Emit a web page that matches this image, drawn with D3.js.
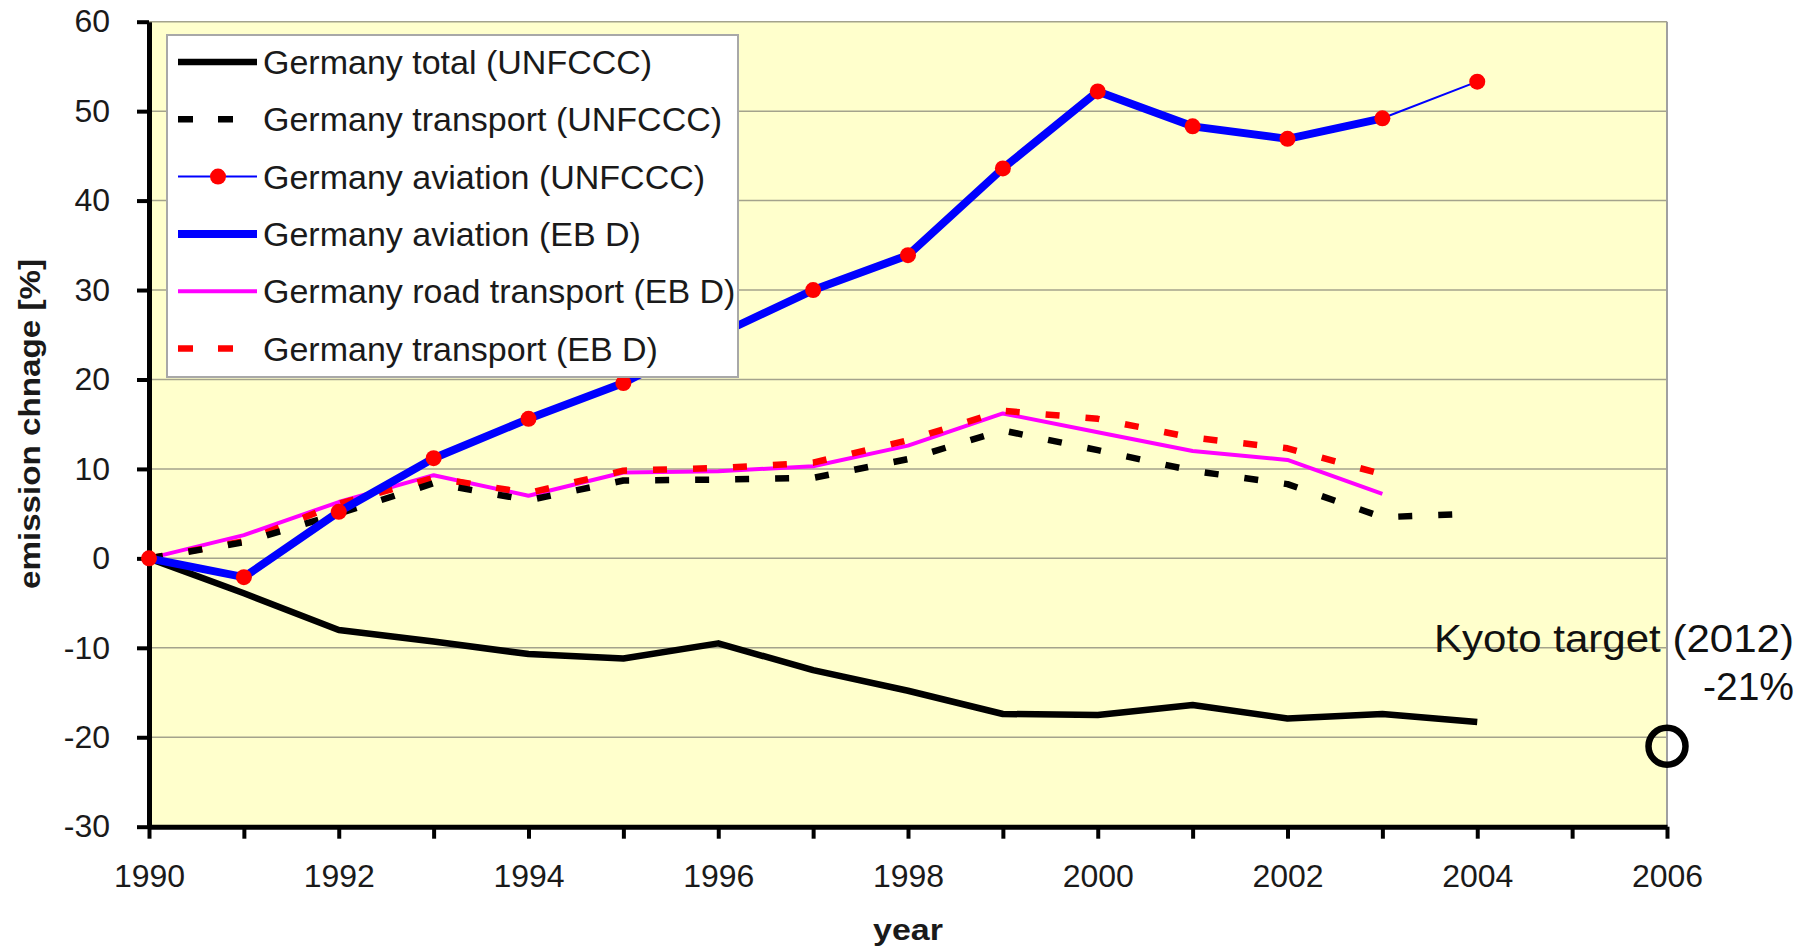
<!DOCTYPE html>
<html>
<head>
<meta charset="utf-8">
<script src="https://cdn.jsdelivr.net/npm/d3@7"></script>
<style>
  body { margin: 0; background: #fff; }
  svg { display: block; font-family: "Liberation Sans", Arial, sans-serif; }
</style>
</head>
<body>
<div id="vis"></div>
<script>
// data (emission change vs 1990, %)
var years = [1990, 1991, 1992, 1993, 1994, 1995, 1996, 1997, 1998, 1999, 2000, 2001, 2002, 2003, 2004];
var totalUnfccc     = [0, -3.9, -8.0, -9.3, -10.7, -11.2, -9.5, -12.5, -14.8, -17.4, -17.5, -16.4, -17.9, -17.4, -18.3];
var transportUnfccc = [0, 1.8, 5.0, 8.4, 6.5, 8.7, 8.8, 9.0, 11.1, 14.3, 12.1, 9.8, 8.3, 4.6, 5.0];
var aviationUnfccc  = [0, -2.1, 5.2, 11.2, 15.6, 19.6, 25.0, 30.0, 33.9, 43.6, 52.2, 48.3, 46.9, 49.2, 53.3];
var aviationEbd     = [0, -2.1, 5.2, 11.2, 15.6, 19.6, 25.0, 30.0, 33.9, 43.6, 52.2, 48.3, 46.9, 49.2];
var roadEbd         = [0, 2.6, 6.3, 9.3, 7.0, 9.6, 9.75, 10.3, 12.6, 16.2, 14.1, 12.0, 11.0, 7.2];
var transportEbd    = [0, 1.9, 6.1, 9.0, 7.3, 9.8, 10.1, 10.7, 13.2, 16.5, 15.6, 13.5, 12.3, 9.4];
var kyotoYear = 2006, kyotoValue = -21;
var yTicks = [-30, -20, -10, 0, 10, 20, 30, 40, 50, 60];
var xTicks = [1990, 1991, 1992, 1993, 1994, 1995, 1996, 1997, 1998, 1999, 2000, 2001, 2002, 2003, 2004, 2005, 2006];
var legendNames = ["Germany total (UNFCCC)", "Germany transport (UNFCCC)", "Germany aviation (UNFCCC)",
                   "Germany aviation (EB D)", "Germany road transport (EB D)", "Germany transport (EB D)"];

var width = 1818, height = 952;
var plotLeft = 149, plotRight = 1667, plotTop = 21.7, plotBottom = 826.7;

var svg = d3.select("#vis").append("svg")
    .attr("width", width)
    .attr("height", height);

var x = d3.scaleLinear().domain([1990, 2006]).range([plotLeft, plotRight]);
var y = d3.scaleLinear().domain([-30, 60]).range([plotBottom, plotTop]);

// plot area
svg.append("rect")
    .attr("x", plotLeft).attr("y", plotTop)
    .attr("width", plotRight - plotLeft).attr("height", plotBottom - plotTop)
    .attr("fill", "#ffffcc");

svg.append("g").selectAll("line")
    .data(yTicks.filter(function(d) { return d > -30; }))
    .enter().append("line")
      .attr("x1", plotLeft).attr("x2", plotRight)
      .attr("y1", function(d) { return y(d); })
      .attr("y2", function(d) { return y(d); })
      .attr("stroke", "#a4a38c")
      .attr("stroke-width", 1.5);

svg.append("line")
    .attr("x1", plotRight).attr("x2", plotRight)
    .attr("y1", plotTop).attr("y2", plotBottom)
    .attr("stroke", "#a0a0a0").attr("stroke-width", 2);

// axes (plain hyphen for negatives, as in the original)
var yAxis = svg.append("g")
    .attr("transform", "translate(" + plotLeft + ",0)")
    .call(d3.axisLeft(y).tickValues(yTicks).tickSize(12).tickSizeOuter(0).tickPadding(27)
      .tickFormat(function(d) { return String(d); }));

var xAxis = svg.append("g")
    .attr("transform", "translate(0," + plotBottom + ")")
    .call(d3.axisBottom(x).tickValues(xTicks).tickSize(12).tickSizeOuter(0).tickPadding(26)
      .tickFormat(function(d) { return d % 2 === 0 ? String(d) : ""; }));

[yAxis, xAxis].forEach(function(a) {
  a.select(".domain").attr("stroke", "#000").attr("stroke-width", 5);
  a.selectAll(".tick line").attr("stroke", "#000").attr("stroke-width", 4);
  a.selectAll(".tick text")
      .attr("fill", "#1a1a1a")
      .style("font-size", "32px")
      .style("font-family", "'Liberation Sans', Arial, sans-serif");
});

// axis titles
svg.append("text")
    .attr("transform", "translate(40," + 424 + ") rotate(-90)")
    .attr("text-anchor", "middle")
    .attr("font-weight", "bold")
    .attr("font-size", 30)
    .attr("textLength", 330)
    .attr("lengthAdjust", "spacingAndGlyphs")
    .attr("fill", "#1a1a1a")
    .text("emission chnage [%]");

svg.append("text")
    .attr("x", (plotLeft + plotRight) / 2)
    .attr("y", 940)
    .attr("text-anchor", "middle")
    .attr("font-weight", "bold")
    .attr("font-size", 30)
    .attr("textLength", 70)
    .attr("lengthAdjust", "spacingAndGlyphs")
    .attr("fill", "#1a1a1a")
    .text("year");

// series
function pts(vals) {
  return vals.map(function(v, i) { return [years[i], v]; });
}
var line = d3.line()
    .x(function(d) { return x(d[0]); })
    .y(function(d) { return y(d[1]); });

var series = [
  { data: roadEbd,         color: "#ff00ff", width: 4,   dash: null },
  { data: transportEbd,    color: "#ff0000", width: 6.5, dash: "14,26" },
  { data: transportUnfccc, color: "#000000", width: 6.5, dash: "14,26" },
  { data: totalUnfccc,     color: "#000000", width: 6.5, dash: null },
  { data: aviationEbd,     color: "#0000ff", width: 8,   dash: null },
  { data: aviationUnfccc,  color: "#0000ff", width: 2,   dash: null }
];

svg.append("g").selectAll("path")
    .data(series)
    .enter().append("path")
      .attr("d", function(d) { return line(pts(d.data)); })
      .attr("fill", "none")
      .attr("stroke", function(d) { return d.color; })
      .attr("stroke-width", function(d) { return d.width; })
      .attr("stroke-dasharray", function(d) { return d.dash; })
      .attr("stroke-linejoin", "round");

svg.append("g").selectAll("circle")
    .data(pts(aviationUnfccc))
    .enter().append("circle")
      .attr("cx", function(d) { return x(d[0]); })
      .attr("cy", function(d) { return y(d[1]); })
      .attr("r", 8)
      .attr("fill", "#ff0000");

// legend
var legend = svg.append("g");
legend.append("rect")
    .attr("x", 167).attr("y", 35)
    .attr("width", 571).attr("height", 342)
    .attr("fill", "#fff")
    .attr("stroke", "#a8a8a8")
    .attr("stroke-width", 2);

var legendStyle = [
  { color: "#000000", width: 6.5, dash: null,    dot: false },
  { color: "#000000", width: 6.5, dash: "15,25", dot: false },
  { color: "#0000ff", width: 2,   dash: null,    dot: true },
  { color: "#0000ff", width: 8,   dash: null,    dot: false },
  { color: "#ff00ff", width: 4,   dash: null,    dot: false },
  { color: "#ff0000", width: 6.5, dash: "15,25", dot: false }
];

var item = legend.selectAll(".item")
    .data(legendNames)
    .enter().append("g")
      .attr("class", "item")
      .attr("transform", function(d, i) { return "translate(0," + (62 + 57.3 * i) + ")"; });

item.append("line")
    .attr("x1", 178).attr("x2", 257)
    .attr("stroke", function(d, i) { return legendStyle[i].color; })
    .attr("stroke-width", function(d, i) { return legendStyle[i].width; })
    .attr("stroke-dasharray", function(d, i) { return legendStyle[i].dash; });

item.filter(function(d, i) { return legendStyle[i].dot; })
    .append("circle")
      .attr("cx", 218).attr("r", 8)
      .attr("fill", "#ff0000");

item.append("text")
    .attr("x", 263)
    .attr("y", 12)
    .attr("font-size", 34)
    .attr("textLength", function(d) { return null; })
    .attr("fill", "#1a1a1a")
    .text(function(d) { return d; });

// Kyoto target
svg.append("circle")
    .attr("cx", x(kyotoYear))
    .attr("cy", y(kyotoValue))
    .attr("r", 18.5)
    .attr("fill", "none")
    .attr("stroke", "#000")
    .attr("stroke-width", 6.5);

svg.append("text")
    .attr("x", 1794).attr("y", 652)
    .attr("text-anchor", "end")
    .attr("font-size", 38)
    .attr("textLength", 360)
    .attr("lengthAdjust", "spacingAndGlyphs")
    .attr("fill", "#111")
    .text("Kyoto target (2012)");

svg.append("text")
    .attr("x", 1794).attr("y", 700)
    .attr("text-anchor", "end")
    .attr("font-size", 39)
    .attr("fill", "#111")
    .text("-21%");
</script>
</body>
</html>
